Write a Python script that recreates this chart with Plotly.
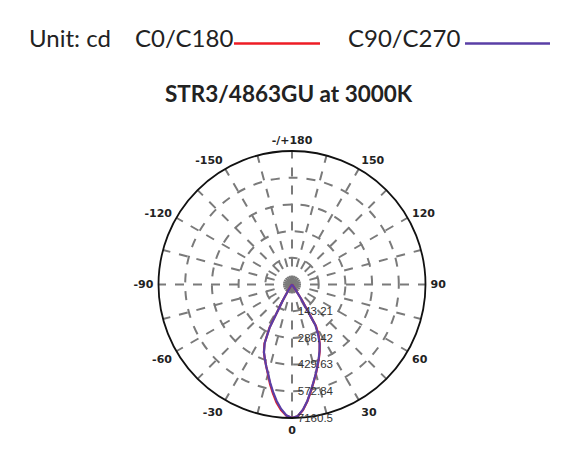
import plotly.graph_objects as go

# ---- data (cd) ----
gamma = [0, 2.5, 5, 7.5, 10, 12.5, 15, 17.5, 20, 22.5, 25, 27.5, 30, 32.5, 35, 37.5, 40,
         45, 50, 60, 70, 80, 90, 120, 150, 180]

# C0/C180 (red)
c0 = [716, 707, 676, 632, 582, 536, 496, 457, 422, 388, 352, 310, 258, 100, 25, 8, 3,
      1, 0, 0, 0, 0, 0, 0, 0, 0]
c180 = [716, 704, 676, 638, 592, 546, 498, 460, 426, 394, 350, 262, 100, 38, 11, 4, 2,
        1, 0, 0, 0, 0, 0, 0, 0, 0]
# C90/C270 (blue)
c90 = [716, 706, 674, 630, 580, 534, 494, 455, 420, 386, 350, 305, 250, 92, 22, 7, 3,
       1, 0, 0, 0, 0, 0, 0, 0, 0]
c270 = [716, 702, 670, 630, 585, 540, 495, 460, 425, 393, 346, 258, 96, 35, 10, 4, 2,
        1, 0, 0, 0, 0, 0, 0, 0, 0]

r_ticks = [143.21, 286.42, 429.63, 572.84, 716.05]
r_ticktext = ["143.21", "286.42", "429.63", "572.84", "7160.5"]
r_max = 716.05

ang_tickvals = list(range(0, 360, 15))
ang_labels = {0: "0", 30: "30", 60: "60", 90: "90", 120: "120", 150: "150",
              180: "-/+180", 210: "-150", 240: "-120", 270: "-90", 300: "-60", 330: "-30"}
ang_ticktext = [ang_labels.get(v, "") for v in ang_tickvals]

title_text = "STR3/4863GU at 3000K"


def curve(pos, neg):
    th = [-g for g in reversed(gamma)] + gamma[1:]
    rr = list(reversed(neg)) + pos[1:]
    return th, rr


fig = go.Figure()
th, rr = curve(c0, c180)
fig.add_trace(go.Scatterpolar(theta=th, r=rr, mode="lines", name="C0/C180",
                              line=dict(color="#ee1c25", width=2.2)))
th, rr = curve(c90, c270)
fig.add_trace(go.Scatterpolar(theta=th, r=rr, mode="lines", name="C90/C270",
                              line=dict(color="#5a3fa6", width=2.2)))

W, H = 577, 451
OFF = 8  # page body offset


def px(x):
    return (x - OFF) / W


def py(y):
    return 1 - (y - OFF) / H


cx, cy, R = 292, 284.5, 133.5
fig.update_layout(
    width=W, height=H,
    margin=dict(l=0, r=0, t=0, b=0),
    paper_bgcolor="white",
    showlegend=False,
    polar=dict(
        domain=dict(x=[px(cx - R), px(cx + R)], y=[py(cy + R), py(cy - R)]),
        bgcolor="white",
        angularaxis=dict(
            rotation=-90, direction="counterclockwise",
            tickmode="array", tickvals=ang_tickvals, ticktext=ang_ticktext,
            showgrid=True, gridcolor="#7a7a7a", gridwidth=1.5, griddash="dash",
            showline=True, linecolor="#111111", linewidth=1.8,
            ticks="outside", ticklen=2, tickcolor="rgba(0,0,0,0)",
            tickfont=dict(family="DejaVu Sans", size=11, color="#222222", weight="bold"),
        ),
        radialaxis=dict(
            range=[0, r_max], angle=-90, tickangle=-90, side="counterclockwise",
            tickmode="array", tickvals=r_ticks, ticktext=r_ticktext,
            showgrid=True, gridcolor="#7a7a7a", gridwidth=1.5, griddash="dash",
            showline=False, ticks="outside", ticklen=3, tickcolor="rgba(0,0,0,0)",
            tickfont=dict(family="Liberation Sans", size=11.5, color="#333333"),
        ),
    ),
)

hdr_font = dict(family="Lato", size=24, color="#222222")
fig.add_annotation(x=px(27), y=py(37), xref="paper", yref="paper", text="Unit: cd",
                   showarrow=False, xanchor="left", yanchor="middle", font=hdr_font)
fig.add_annotation(x=px(133), y=py(37), xref="paper", yref="paper", text="C0/C180",
                   showarrow=False, xanchor="left", yanchor="middle", font=hdr_font)
fig.add_annotation(x=px(346), y=py(37), xref="paper", yref="paper", text="C90/C270",
                   showarrow=False, xanchor="left", yanchor="middle", font=hdr_font)
fig.add_annotation(x=px(289), y=py(93), xref="paper", yref="paper", text="<b>" + title_text + "</b>",
                   showarrow=False, xanchor="center", yanchor="middle",
                   font=dict(family="Lato", size=22.5, color="#222222"))
fig.add_shape(type="line", xref="paper", yref="paper", x0=px(234), x1=px(320),
              y0=py(43.5), y1=py(43.5), line=dict(color="#ee1c25", width=2.5))
fig.add_shape(type="line", xref="paper", yref="paper", x0=px(465), x1=px(550),
              y0=py(43.5), y1=py(43.5), line=dict(color="#5a3fa6", width=2.5))

fig.write_html("out.html")
